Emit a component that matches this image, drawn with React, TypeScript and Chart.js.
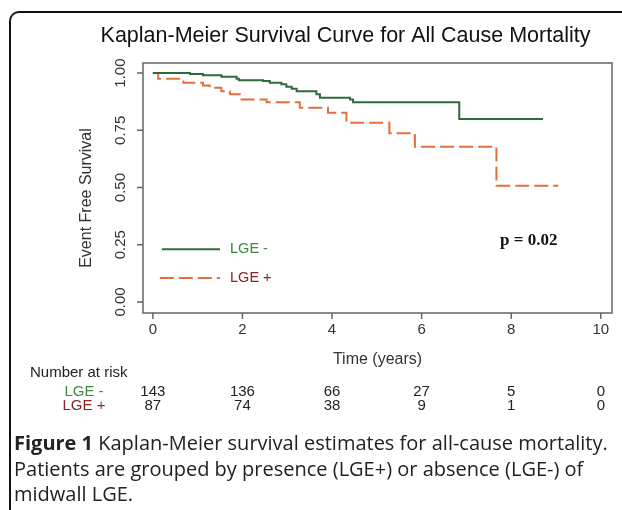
import React, { useEffect, useRef } from "react";
import { Chart, registerables } from "chart.js";

Chart.register(...registerables);

const chartTitle = "Kaplan-Meier Survival Curve for All Cause Mortality";
const xAxisTitle = "Time (years)";
const yAxisTitle = "Event Free Survival";
const xTicks = [0, 2, 4, 6, 8, 10];
const yTicks = [0, 0.25, 0.5, 0.75, 1];
const yTickLabels = ["0.00", "0.25", "0.50", "0.75", "1.00"];
const seriesNames = ["LGE -", "LGE +"];

const lgeNegTimes = [0, 0.83, 1.12, 1.53, 1.87, 1.92, 2.46, 2.61, 2.87, 2.98, 3.1, 3.21, 3.65, 3.73, 4.4, 4.47, 6.84, 8.71];
const lgeNegSurv = [1.0, 0.996, 0.99, 0.984, 0.975, 0.969, 0.965, 0.958, 0.951, 0.94, 0.931, 0.921, 0.907, 0.892, 0.885, 0.873, 0.799, 0.799];

const lgePosTimes = [0, 0.12, 0.68, 1.12, 1.27, 1.53, 1.72, 1.94, 2.54, 3.28, 3.91, 4.32, 5.28, 5.85, 7.67, 9.05];
const lgePosSurv = [1.0, 0.975, 0.958, 0.946, 0.936, 0.921, 0.907, 0.885, 0.873, 0.849, 0.827, 0.783, 0.737, 0.678, 0.508, 0.508];

const riskTitle = "Number at risk";
const riskTimes = [0, 2, 4, 6, 8, 10];
const riskLgeNeg = [143, 136, 66, 27, 5, 0];
const riskLgePos = [87, 74, 38, 9, 1, 0];
const pValueText = "p = 0.02";

const GREEN = "#2f6a3c";
const ORANGE = "#e2703f";
const GREEN_TEXT = "#3c8a3e";
const RED_TEXT = "#8a2424";
const FONT = '"Liberation Sans", Arial, sans-serif';

const decorPlugin = {
  id: "decor",
  afterDraw(chart: any) {
    const { ctx, chartArea, scales } = chart;
    const { left, top, right, bottom } = chartArea;
    const xs = scales.x;
    const ys = scales.y;
    ctx.save();

    // plot box
    ctx.strokeStyle = "#666";
    ctx.lineWidth = 1.5;
    ctx.strokeRect(left, top, right - left, bottom - top);

    // tick marks
    ctx.beginPath();
    xTicks.forEach((v) => {
      const px = xs.getPixelForValue(v);
      ctx.moveTo(px, bottom);
      ctx.lineTo(px, bottom + 6);
    });
    yTicks.forEach((v) => {
      const py = ys.getPixelForValue(v);
      ctx.moveTo(left, py);
      ctx.lineTo(left - 6, py);
    });
    ctx.stroke();

    // tick labels
    ctx.fillStyle = "#333";
    ctx.font = `15px ${FONT}`;
    ctx.textAlign = "center";
    ctx.textBaseline = "middle";
    xTicks.forEach((v) => {
      ctx.fillText(String(v), xs.getPixelForValue(v), bottom + 17);
    });
    yTicks.forEach((v, i) => {
      ctx.save();
      ctx.translate(left - 22, ys.getPixelForValue(v));
      ctx.rotate(-Math.PI / 2);
      ctx.fillText(yTickLabels[i], 0, 0);
      ctx.restore();
    });

    // titles
    ctx.fillStyle = "#111";
    ctx.font = `21.5px ${FONT}`;
    ctx.fillText(chartTitle, (left + right) / 2 - 32, 36);
    ctx.fillStyle = "#333";
    ctx.font = `16px ${FONT}`;
    ctx.fillText(xAxisTitle, (left + right) / 2, bottom + 47);
    ctx.save();
    ctx.translate(left - 56, (top + bottom) / 2 + 10);
    ctx.rotate(-Math.PI / 2);
    ctx.fillText(yAxisTitle, 0, 0);
    ctx.restore();

    // legend
    const lx0 = xs.getPixelForValue(0.2);
    const lx1 = xs.getPixelForValue(1.5);
    const ly0 = ys.getPixelForValue(0.23);
    const ly1 = ys.getPixelForValue(0.105);
    ctx.lineWidth = 2;
    ctx.strokeStyle = GREEN;
    ctx.setLineDash([]);
    ctx.beginPath();
    ctx.moveTo(lx0, ly0);
    ctx.lineTo(lx1, ly0);
    ctx.stroke();
    ctx.strokeStyle = ORANGE;
    ctx.setLineDash([14, 5]);
    ctx.beginPath();
    ctx.moveTo(lx0 - 2, ly1);
    ctx.lineTo(lx1, ly1);
    ctx.stroke();
    ctx.setLineDash([]);
    ctx.textAlign = "left";
    ctx.font = `14.5px ${FONT}`;
    ctx.fillStyle = GREEN_TEXT;
    ctx.fillText(seriesNames[0], lx1 + 10, ly0);
    ctx.fillStyle = RED_TEXT;
    ctx.fillText(seriesNames[1], lx1 + 10, ly1);

    // p value
    ctx.fillStyle = "#111";
    ctx.font = `bold 17px "Liberation Serif", "Times New Roman", serif`;
    ctx.fillText(pValueText, xs.getPixelForValue(7.75), ys.getPixelForValue(0.27));

    // risk table
    ctx.font = `15px ${FONT}`;
    ctx.fillStyle = "#222";
    ctx.textAlign = "left";
    ctx.fillText(riskTitle, 30, bottom + 60);
    ctx.textAlign = "center";
    ctx.fillStyle = GREEN_TEXT;
    ctx.fillText(seriesNames[0], 84, bottom + 79);
    ctx.fillStyle = RED_TEXT;
    ctx.fillText(seriesNames[1], 84, bottom + 93);
    ctx.fillStyle = "#222";
    riskTimes.forEach((t, i) => {
      const px = xs.getPixelForValue(t);
      ctx.fillText(String(riskLgeNeg[i]), px, bottom + 79);
      ctx.fillText(String(riskLgePos[i]), px, bottom + 93);
    });

    ctx.restore();
  },
};

export default function App() {
  const canvasRef = useRef<HTMLCanvasElement | null>(null);

  useEffect(() => {
    const canvas = canvasRef.current;
    if (!canvas) return;
    const chart = new Chart(canvas, {
      type: "line",
      data: {
        datasets: [
          {
            label: seriesNames[0],
            data: lgeNegTimes.map((t, i) => ({ x: t, y: lgeNegSurv[i] })),
            borderColor: GREEN,
            borderWidth: 2,
            stepped: "before",
            pointRadius: 0,
            fill: false,
          },
          {
            label: seriesNames[1],
            data: lgePosTimes.map((t, i) => ({ x: t, y: lgePosSurv[i] })),
            borderColor: ORANGE,
            borderWidth: 2,
            borderDash: [14, 5],
            stepped: "before",
            pointRadius: 0,
            fill: false,
          },
        ],
      },
      options: {
        responsive: false,
        animation: false,
        devicePixelRatio: 1,
        layout: { padding: { left: 143, top: 63, right: 10, bottom: 197 } },
        plugins: { legend: { display: false }, tooltip: { enabled: false }, title: { display: false } },
        scales: {
          x: { type: "linear", min: -0.22, max: 10.25, display: false },
          y: { type: "linear", min: -0.048, max: 1.044, display: false },
        },
      },
      plugins: [decorPlugin],
    });
    return () => chart.destroy();
  }, []);

  return (
    <div style={{ position: "absolute", left: 0, top: 0, width: 622, height: 510, background: "#fff", overflow: "hidden" }}>
      <div
        style={{
          position: "absolute",
          left: 9,
          top: 11,
          width: 640,
          height: 520,
          borderTop: "2px solid #111",
          borderLeft: "2px solid #111",
          borderTopLeftRadius: 10,
          boxSizing: "border-box",
        }}
      />
      <canvas ref={canvasRef} width={622} height={510} style={{ position: "absolute", left: 0, top: 0 }} />
      <div
        style={{
          position: "absolute",
          left: 14,
          top: 430,
          width: 608,
          fontFamily: '"Open Sans", sans-serif',
          fontSize: 20,
          lineHeight: "25.5px",
          color: "#222",
          whiteSpace: "nowrap",
        }}
      >
        <b>Figure 1</b> Kaplan-Meier survival estimates for all-cause mortality.
        <br />
        Patients are grouped by presence (LGE+) or absence (LGE-) of
        <br />
        midwall LGE.
      </div>
    </div>
  );
}
